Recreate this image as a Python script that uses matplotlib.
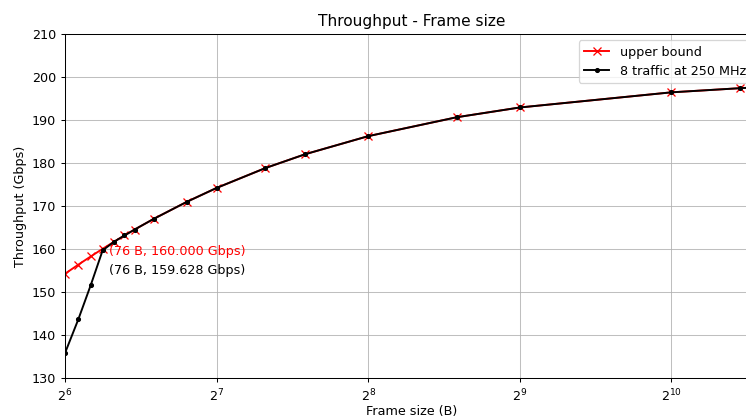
import numpy as np
import matplotlib
matplotlib.use('Agg')
import matplotlib.pyplot as plt

# frame sizes (bytes)
frame_sizes = [64, 68, 72, 76, 80, 84, 88, 96, 112, 128, 160, 192, 256, 384, 512, 1024, 1400, 1518]

# throughput (Gbps)
upper_bound = [154.22, 156.32, 158.24, 160.00, 161.62, 163.11, 164.49, 166.96, 170.99, 174.15,
               178.77, 181.99, 186.18, 190.58, 192.84, 196.36, 197.32, 197.53]
traffic_250 = [135.8, 143.6, 151.6, 159.628, 161.62, 163.11, 164.49, 166.96, 170.99, 174.15,
               178.77, 181.99, 186.18, 190.58, 192.84, 196.36, 197.32, 197.53]

DPI = 92
fig = plt.figure(figsize=(746.4 / DPI, 416.4 / DPI), dpi=DPI)
# axes run a bit past the right edge of the picture, as in the reference
ax = fig.add_axes([65 / 746, 38 / 416, (757 - 65) / 746, (378 - 34) / 416])

ax.plot(frame_sizes, upper_bound, color='red', marker='x', label='upper bound', zorder=2)
ax.plot(frame_sizes, traffic_250, color='black', marker='.', label='8 traffic at 250 MHz', zorder=3)

ax.annotate('(76 B, 160.000 Gbps)', xy=(76, 160.0), xytext=(4.7, -1.6), textcoords='offset points',
            color='red', va='center', ha='left')
ax.annotate('(76 B, 159.628 Gbps)', xy=(76, 159.628), xytext=(4.7, -15.6), textcoords='offset points',
            color='black', va='center', ha='left')

ax.set_xscale('log', base=2)
ax.set_xlim(64, 1518)
ax.set_ylim(130, 210)
ax.set_xticks([64, 128, 256, 512, 1024])
ax.set_xticklabels([r'$\mathdefault{2^{6}}$', r'$\mathdefault{2^{7}}$', r'$\mathdefault{2^{8}}$',
                    r'$\mathdefault{2^{9}}$', r'$\mathdefault{2^{10}}$'])
ax.xaxis.set_minor_locator(matplotlib.ticker.NullLocator())
ax.grid(True, color='#b0b0b0', linewidth=0.8, alpha=0.8)

ax.set_title('Throughput - Frame size')
ax.set_xlabel('Frame size (B)', labelpad=0.5)
ax.set_ylabel('Throughput (Gbps)')
ax.legend(loc='upper right')

plt.savefig('out.png', dpi=DPI)
